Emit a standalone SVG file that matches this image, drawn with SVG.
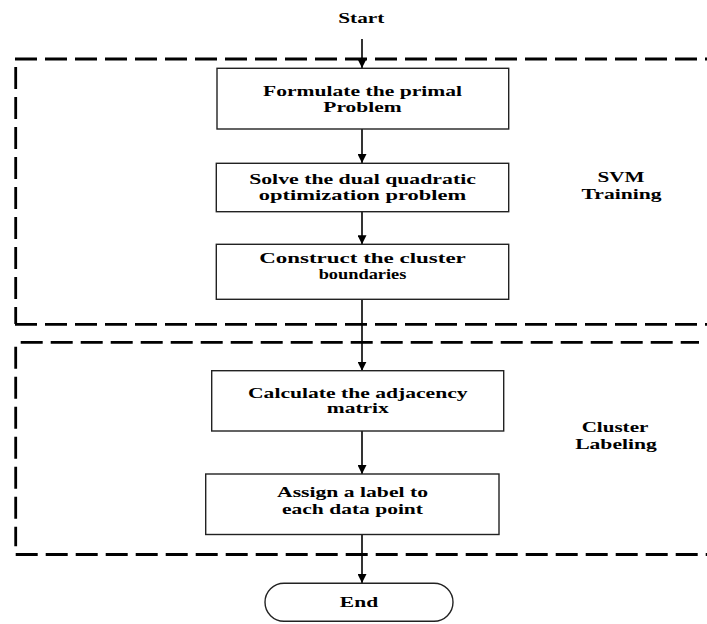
<svg xmlns="http://www.w3.org/2000/svg" width="707" height="624" viewBox="0 0 707 624">
<style>
  .t { font-family: "Liberation Serif", "Times New Roman", serif; font-weight: bold; font-size: 15.5px; fill: #000; text-anchor: middle; }
  .box { fill: #fff; stroke: #222; stroke-width: 1.4; }
  .dash { stroke: #000; stroke-width: 2.8; stroke-dasharray: 22 8; fill: none; }
  .conn { stroke: #000; stroke-width: 1.6; fill: none; marker-end: url(#arr); }
</style>
<defs>
  <marker id="arr" markerUnits="userSpaceOnUse" markerWidth="9" markerHeight="9" refX="9" refY="4.5" orient="auto">
    <path d="M0,0 L9,4.5 L0,9 z" fill="#000"/>
  </marker>
</defs>
<rect width="707" height="624" fill="#fff"/>

<g id="region-svm">
  <line class="dash" x1="15" y1="59" x2="707" y2="59"/>
  <line class="dash" x1="15.7" y1="67" x2="15.7" y2="324"/>
  <line class="dash" x1="15" y1="324.3" x2="707" y2="324.3"/>
  <text class="t" x="621" y="182" textLength="47" lengthAdjust="spacingAndGlyphs">SVM</text>
  <text class="t" x="621.5" y="199" textLength="80" lengthAdjust="spacingAndGlyphs">Training</text>
</g>

<g id="region-cluster">
  <line class="dash" x1="20.7" y1="342.3" x2="699" y2="342.3"/>
  <line class="dash" x1="15.7" y1="346.7" x2="15.7" y2="546.3"/>
  <line class="dash" x1="15.7" y1="554.5" x2="707" y2="554.5"/>
  <text class="t" x="615" y="432" textLength="66.7" lengthAdjust="spacingAndGlyphs">Cluster</text>
  <text class="t" x="616" y="448.5" textLength="81.7" lengthAdjust="spacingAndGlyphs">Labeling</text>
</g>

<g id="connectors">
  <line class="conn" x1="362" y1="39" x2="362" y2="68"/>
  <line class="conn" x1="362" y1="129" x2="362" y2="163"/>
  <line class="conn" x1="362" y1="211.7" x2="362" y2="244.3"/>
  <line class="conn" x1="362" y1="299.3" x2="362" y2="370.7"/>
  <line class="conn" x1="362" y1="431" x2="362" y2="474"/>
  <line class="conn" x1="362" y1="534.5" x2="362" y2="583"/>
</g>

<g id="start">
  <text class="t" x="361.3" y="22.7" textLength="46" lengthAdjust="spacingAndGlyphs">Start</text>
</g>

<g id="formulate">
  <rect class="box" x="217" y="68.3" width="291.7" height="60.7"/>
  <text class="t" x="362.5" y="95.7" textLength="199" lengthAdjust="spacingAndGlyphs">Formulate the primal</text>
  <text class="t" x="362.5" y="111.7" textLength="78.3" lengthAdjust="spacingAndGlyphs">Problem</text>
</g>

<g id="solve">
  <rect class="box" x="216.3" y="163.3" width="292.4" height="48.4"/>
  <text class="t" x="362.5" y="184" textLength="226.7" lengthAdjust="spacingAndGlyphs">Solve the dual quadratic</text>
  <text class="t" x="362.5" y="200" textLength="207.3" lengthAdjust="spacingAndGlyphs">optimization problem</text>
</g>

<g id="construct">
  <rect class="box" x="216.3" y="244.3" width="292.4" height="55"/>
  <text class="t" x="362.5" y="263.3" textLength="206.7" lengthAdjust="spacingAndGlyphs">Construct the cluster</text>
  <text class="t" x="362.5" y="279.3" textLength="87.7" lengthAdjust="spacingAndGlyphs">boundaries</text>
</g>

<g id="calculate">
  <rect class="box" x="211.7" y="370.7" width="292" height="60.3"/>
  <text class="t" x="357.8" y="397.5" textLength="219.6" lengthAdjust="spacingAndGlyphs">Calculate the adjacency</text>
  <text class="t" x="357.8" y="413.3" textLength="62" lengthAdjust="spacingAndGlyphs">matrix</text>
</g>

<g id="assign">
  <rect class="box" x="205.7" y="474" width="293.3" height="60.5"/>
  <text class="t" x="352.5" y="496.7" textLength="151" lengthAdjust="spacingAndGlyphs">Assign a label to</text>
  <text class="t" x="352.5" y="513.5" textLength="141" lengthAdjust="spacingAndGlyphs">each data point</text>
</g>

<g id="end">
  <rect class="box" x="265" y="583.3" width="188" height="38" rx="19" ry="19"/>
  <text class="t" x="359" y="606.7" textLength="38.3" lengthAdjust="spacingAndGlyphs">End</text>
</g>
</svg>
